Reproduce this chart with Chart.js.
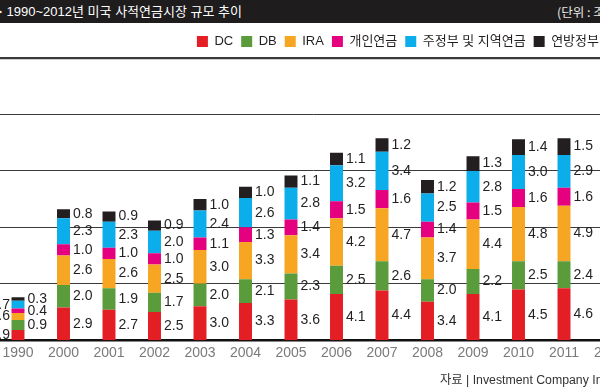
<!DOCTYPE html>
<html><head><meta charset="utf-8">
<script src="https://cdn.jsdelivr.net/npm/chart.js@4/dist/chart.umd.min.js"></script>
<style>
html,body{margin:0;padding:0;background:#fff;}
body{width:600px;height:391px;overflow:hidden;position:relative;font-family:"Liberation Sans","Noto Sans CJK KR",sans-serif;}
#titlebar{position:absolute;left:0;top:0;width:600px;height:23px;background:#1e1c1d;z-index:2;overflow:hidden;white-space:nowrap;}
#title{position:absolute;left:-10px;top:3px;color:#fff;font-size:13px;line-height:17px;font-family:"Liberation Sans","Noto Sans CJK KR",sans-serif;}
#unit{position:absolute;left:557px;top:4px;color:#e8e8e8;font-size:12.5px;line-height:16px;font-family:"Noto Sans CJK KR",sans-serif;}
#source{position:absolute;left:440px;top:372px;color:#333;font-size:12.3px;line-height:17px;white-space:nowrap;z-index:2;font-family:"Liberation Sans","Noto Sans CJK KR",sans-serif;}
#wrap{position:absolute;left:-10px;top:0;width:660px;height:391px;}
</style></head>
<body>
<div id="titlebar"><span id="title">▶ 1990~2012년 미국 사적연금시장 규모 추이</span><span id="unit">(단위 : 조 달러)</span></div>
<div id="wrap"><canvas id="c" width="660" height="391"></canvas></div>
<div id="source">자료 | Investment Company Institute</div>
<script>
const years = ['1990','2000','2001','2002','2003','2004','2005','2006','2007','2008','2009','2010','2011','2012'];
const dc      = [0.9,2.9,2.7,2.5,3.0,3.3,3.6,4.1,4.4,3.4,4.1,4.5,4.6,null];
const db      = [0.9,2.0,1.9,1.7,2.0,2.1,2.3,2.5,2.6,2.0,2.2,2.5,2.4,null];
const ira     = [0.6,2.6,2.6,2.5,3.0,3.3,3.4,4.2,4.7,3.7,4.4,4.8,4.9,null];
const personal= [0.4,1.0,1.0,1.0,1.1,1.3,1.4,1.5,1.6,1.4,1.5,1.6,1.6,null];
const stateLocal=[0.7,2.3,2.3,2.0,2.4,2.6,2.8,3.2,3.4,2.5,2.8,3.0,2.9,null];
const federal = [0.3,0.8,0.9,0.9,1.0,1.0,1.1,1.1,1.2,1.2,1.3,1.4,1.5,null];
const seriesNames = ['DC','DB','IRA','개인연금','주정부 및 지역연금','연방정부'];
const seriesColors = ['#e41e25','#5a9c3b','#f6a623','#e4007f','#0badea','#231f20'];
const yTicks = [0,5,10,15,20,25];

const series = [dc,db,ira,personal,stateLocal,federal];

const labelPlugin = {
  id:'segLabels',
  afterDatasetsDraw(chart){
    const ctx = chart.ctx;
    ctx.save();
    ctx.font = '14px "Liberation Sans Narrow","Liberation Sans",sans-serif';
    ctx.fillStyle = '#231f20';
    ctx.textBaseline = 'middle';
    chart.data.datasets.forEach((ds, di) => {
      const meta = chart.getDatasetMeta(di);
      meta.data.forEach((el, i) => {
        const v = ds.data[i];
        if (v === null || v === undefined) return;
        const p = el.getProps(['x','y','base','width'], true);
        const cy = (p.y + p.base) / 2;
        const txt = v.toFixed(1);
        if (i === 0 && di % 2 === 0) {
          ctx.textAlign = 'right';
          ctx.fillText(txt, p.x - p.width/2 - 1.5, cy);
        } else {
          ctx.textAlign = 'left';
          ctx.fillText(txt, p.x + p.width/2 + 3, cy);
        }
      });
    });
    ctx.restore();
  }
};

const legendShift = {
  id:'legendShift',
  afterLayout(chart){
    if (chart.legend) { chart.legend.right = 617; }
  }
};

new Chart(document.getElementById('c'), {
  type:'bar',
  data:{
    labels: years,
    datasets: series.map((d, i) => ({
      label: seriesNames[i],
      data: d,
      backgroundColor: seriesColors[i],
      borderWidth: 0,
      categoryPercentage: 1.0,
      barPercentage: 0.285
    }))
  },
  options:{
    responsive:false,
    devicePixelRatio:1,
    animation:false,
    layout:{padding:{left:5.25,right:17.75,top:27,bottom:24}},
    plugins:{
      legend:{
        display:true,
        position:'top',
        align:'end',
        labels:{
          boxWidth:11, boxHeight:11, padding:8,
          color:'#231f20',
          font:{size:13, family:'"Liberation Sans","Noto Sans CJK KR",sans-serif'}
        }
      },
      tooltip:{enabled:false},
      title:{display:false}
    },
    scales:{
      x:{
        stacked:true,
        offset:true,
        grid:{display:false, drawTicks:false},
        border:{display:true, color:'#111', width:2.5},
        ticks:{color:'#7a7a7a', padding:5, font:{size:14, family:'"Liberation Sans",sans-serif'}, maxRotation:0, autoSkip:false}
      },
      y:{
        stacked:true,
        min:0, max:25,
        afterBuildTicks(scale){ scale.ticks = yTicks.map(v => ({value:v})); },
        grid:{
          drawTicks:false,
          color:'#3a3a3a',
          lineWidth:(c) => c.tick && c.tick.value === 25 ? 2.2 : (c.tick && c.tick.value === 0 ? 0 : 1)
        },
        border:{display:false},
        ticks:{display:false}
      }
    }
  },
  plugins:[labelPlugin, legendShift]
});
</script>
</body></html>
